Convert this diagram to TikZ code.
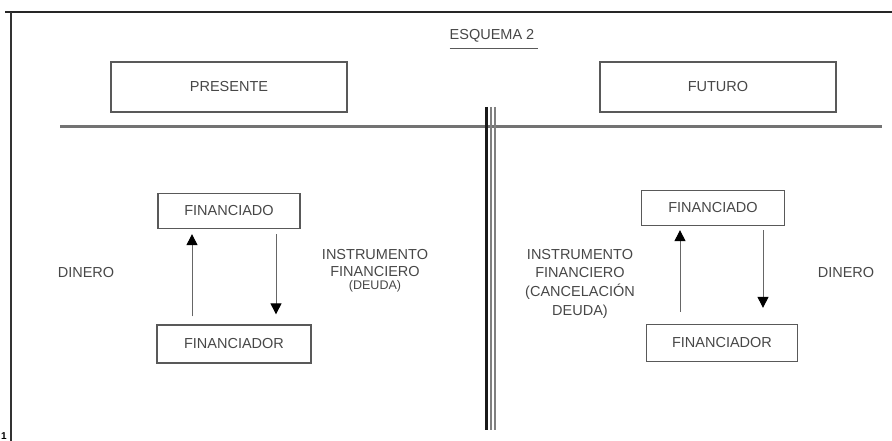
\documentclass[tikz,border=0pt]{standalone}
\usepackage{fontspec}
\setmainfont{Liberation Sans}
\usetikzlibrary{arrows.meta}
\definecolor{ink}{gray}{0.28}
\definecolor{rule}{gray}{0.35}
\tikzset{
  txt/.style={text=ink, font=\fontsize{14.5}{16}\selectfont, inner sep=0pt},
  smalltxt/.style={text=ink, font=\fontsize{12.5}{14}\selectfont, inner sep=0pt},
  bigbox/.style={draw=rule, line width=1.4pt, minimum width=236pt, minimum height=50pt, inner sep=0pt, text=ink, font=\fontsize{14.5}{16}\selectfont},
  agent/.style={draw=rule, line width=1.3pt, minimum height=35pt, inner sep=0pt, text=ink, font=\fontsize{14.5}{16}\selectfont},
  flow/.style={draw=black!60, line width=1pt, -{Triangle[width=11pt,length=11pt]}, arrows={[color=black]}}
}
\begin{document}
\begin{tikzpicture}[x=1pt,y=-1pt]
\useasboundingbox (0,0) rectangle (892,441);
% page frame
\draw[line width=2pt, black!85] (5,12) -- (892,12);
\draw[line width=2pt, black!80] (11,12) -- (11,441);
\node[font=\fontsize{10}{12}\selectfont\bfseries, inner sep=0pt] (pg) at (4,436) {1};
% title
\node[txt] (title) at (492,36) {ESQUEMA 2};
\draw[line width=1.6pt, rule] (title.south west) ++(0,6) -- ++(88,0);
% top boxes
\node[bigbox] (pres) at (229,87) {PRESENTE};
\node[bigbox] (fut) at (718,87) {FUTURO};
% dividing lines
\coordinate (hl) at (60,127);
\coordinate (hr) at (882,127);
\draw[line width=3pt, black!55] (hl) -- (hr);
\coordinate (vt) at (489,107);
\coordinate (vb) at (489,430);
\draw[line width=2.6pt, black!90] ([xshift=-2.5pt]vt) -- ([xshift=-2.5pt]vb);
\draw[line width=2.2pt, black!50] ([xshift=2pt]vt) -- ([xshift=2pt]vb);
\draw[line width=1.6pt, black!50] ([xshift=6pt]vt) -- ([xshift=6pt]vb);
% left side
\node[agent, minimum width=142pt] (fdoL) at (229,211) {FINANCIADO};
\node[agent, minimum width=154pt, minimum height=38pt] (fdorL) at (234,344) {FINANCIADOR};
\draw[flow] (fdorL.north -| 192,0) ++(0,-8) coordinate (a1) -- ([yshift=-5pt]a1 |- fdoL.south);
\draw[flow] ([yshift=-5pt]fdoL.south -| 276,0) coordinate (a2) -- ([yshift=10pt]a2 |- fdorL.north);
\node[txt] (dinL) at (86,273) {DINERO};
\node[txt] (insL1) at (375,255) {INSTRUMENTO};
\node[txt] (insL2) at (375,272) {FINANCIERO};
\node[smalltxt] (insL3) at (375,286) {(DEUDA)};
% right side
\node[agent, minimum width=143pt] (fdoR) at (713,208) {FINANCIADO};
\node[agent, minimum width=151pt, minimum height=37pt] (fdorR) at (722,343) {FINANCIADOR};
\draw[flow] (fdorR.north -| 680,0) ++(0,-12) coordinate (b1) -- ([yshift=-4pt]b1 |- fdoR.south);
\draw[flow] ([yshift=-4pt]fdoR.south -| 763,0) coordinate (b2) -- ([yshift=16pt]b2 |- fdorR.north);
\node[txt] (dinR) at (846,273) {DINERO};
\node[txt] (insR1) at (580,255) {INSTRUMENTO};
\node[txt] (insR2) at (580,273) {FINANCIERO};
\node[txt] (insR3) at (580,292) {(CANCELACIÓN};
\node[txt] (insR4) at (580,312) {DEUDA)};
\end{tikzpicture}
\end{document}
